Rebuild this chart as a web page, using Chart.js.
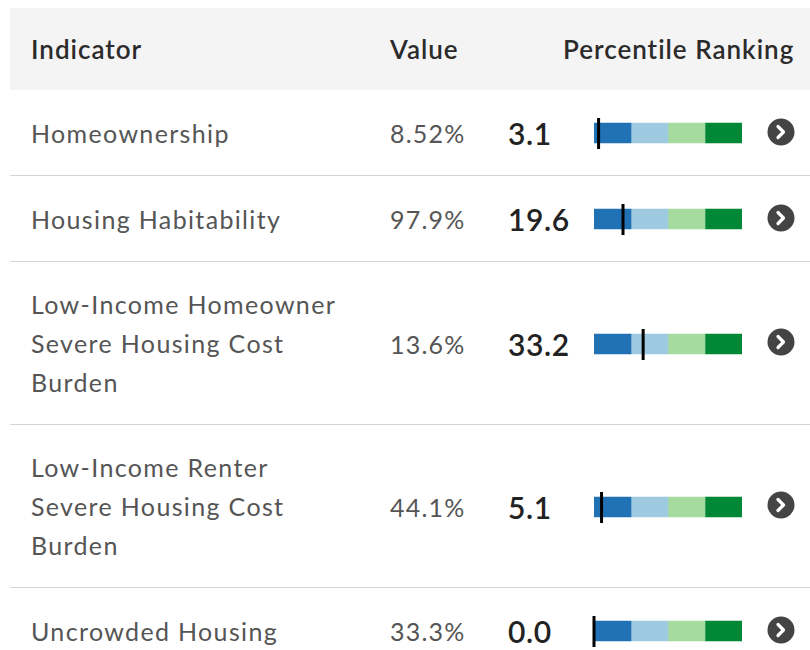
<!DOCTYPE html>
<html>
<head>
<meta charset="utf-8">
<script src="https://cdn.jsdelivr.net/npm/chart.js@4.4.0/dist/chart.umd.min.js"></script>
<style>
    body { margin: 0; background: #fff; font-family: Lato, "Open Sans", sans-serif; overflow: hidden; }
    table { position: absolute; left: 10px; top: 8px; width: 800px; border-collapse: collapse; table-layout: fixed; }
    th { background: #f4f4f4; height: 82px; text-align: left; font-size: 26px; letter-spacing: 1px; font-weight: 600; color: #2b2b2b; padding: 0; }
    td { padding: 23px 0 22px 0; vertical-align: middle; border-bottom: 1px solid #d4d4d4; }
    th.ind, td.ind { padding-left: 21px; }
    td.ind { font-size: 25px; letter-spacing: 1.35px; line-height: 39px; color: #555; white-space: nowrap; }
    td.val { font-size: 25px; letter-spacing: 1.2px; color: #555; }
    td.pct { font-size: 30px; font-weight: 600; letter-spacing: 0.6px; color: #222; padding-left: 3px; }
    td.bar canvas { display: block; }
    td.icon { text-align: center; }
</style>
</head>
<body>
<table id="tbl">
    <colgroup>
        <col style="width:380px"><col style="width:115px"><col style="width:85px"><col style="width:162px"><col style="width:58px">
    </colgroup>
    <thead>
        <tr><th class="ind">Indicator</th><th>Value</th><th colspan="3" style="padding-left:58px">Percentile Ranking</th></tr>
    </thead>
    <tbody id="rows"></tbody>
</table>
<script>
// indicators (one entry per line of the label)
const indicators = [
    ['Homeownership'],
    ['Housing Habitability'],
    ['Low-Income Homeowner', 'Severe Housing Cost', 'Burden'],
    ['Low-Income Renter', 'Severe Housing Cost', 'Burden'],
    ['Uncrowded Housing']
];
const values = ['8.52%', '97.9%', '13.6%', '44.1%', '33.3%'];
const percentiles = [3.1, 19.6, 33.2, 5.1, 0.0];
// percentile bands, 0-25-50-75-100
const bands = [25, 25, 25, 25];
const bandColors = ['#2171b5', '#9ecae1', '#a6dba0', '#008837'];

// marker line for the percentile
const markerPlugin = {
    id: 'marker',
    afterDatasetsDraw(chart, args, opts) {
        const x = chart.scales.x.getPixelForValue(opts.value);
        const y = chart.scales.y.getPixelForValue(0);
        const ctx = chart.ctx;
        ctx.save();
        ctx.strokeStyle = '#000';
        ctx.lineWidth = 3;
        ctx.beginPath();
        ctx.moveTo(x, y - 15);
        ctx.lineTo(x, y + 16);
        ctx.stroke();
        ctx.restore();
    }
};

const tbody = document.getElementById('rows');
indicators.forEach((lines, i) => {
    const tr = document.createElement('tr');
    tr.innerHTML =
        '<td class="ind">' + lines.join('<br>') + '</td>' +
        '<td class="val">' + values[i] + '</td>' +
        '<td class="pct">' + percentiles[i].toFixed(1) + '</td>' +
        '<td class="bar"><canvas width="156" height="40"></canvas></td>' +
        '<td class="icon"><svg width="28" height="28" viewBox="0 0 28 28">' +
        '<circle cx="14" cy="14" r="13.5" fill="#444"/>' +
        '<path d="M11 8.5 L16.5 14 L11 19.5" fill="none" stroke="#fff" stroke-width="3.2" stroke-linecap="round" stroke-linejoin="round"/>' +
        '</svg></td>';
    tbody.appendChild(tr);

    const ctx = tr.querySelector('canvas').getContext('2d');
    new Chart(ctx, {
        type: 'bar',
        data: {
            labels: [''],
            datasets: bands.map((b, j) => ({
                data: [b],
                backgroundColor: bandColors[j],
                borderWidth: 0,
                barThickness: 20
            }))
        },
        options: {
            indexAxis: 'y',
            responsive: false,
            animation: false,
            layout: { padding: { left: 4, right: 4, top: 0, bottom: 0 } },
            scales: {
                x: { stacked: true, min: 0, max: 100, display: false },
                y: { stacked: true, display: false }
            },
            plugins: {
                legend: { display: false },
                tooltip: { enabled: false },
                marker: { value: percentiles[i] }
            }
        },
        plugins: [markerPlugin]
    });
});
</script>
</body>
</html>
